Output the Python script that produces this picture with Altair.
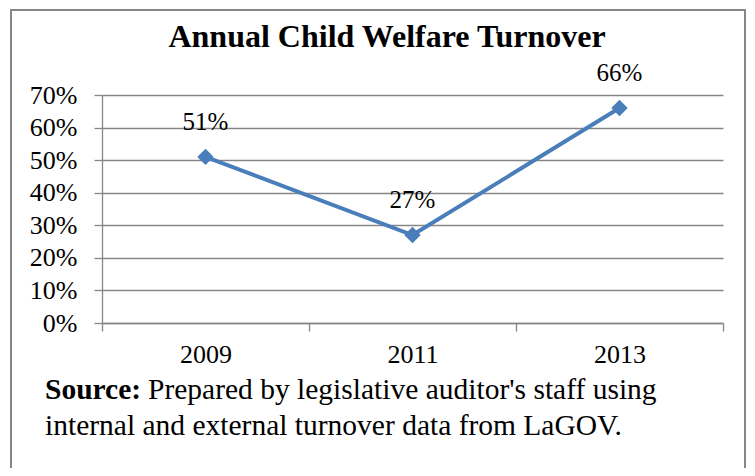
import altair as alt
import pandas as pd

# ---- data ----
years = ["2009", "2011", "2013"]
turnover = [0.51, 0.27, 0.66]
labels = ["51%", "27%", "66%"]
y_ticks = [0.0, 0.1, 0.2, 0.3, 0.4, 0.5, 0.6, 0.7]

title_text = "Annual Child Welfare Turnover"
source_bold = "Source:"
source_line1 = "Prepared by legislative auditor's staff using"
source_line2 = "internal and external turnover data from LaGOV."

FONT = "Liberation Serif"
GRAY = "#868686"
BLUE = "#4A7EBB"

df = pd.DataFrame({"year": years, "rate": turnover, "label": labels})

x_enc = alt.X(
    "year:N",
    sort=years,
    scale=alt.Scale(paddingInner=0, paddingOuter=0),
    axis=alt.Axis(
        title=None,
        labelAngle=0,
        tickBand="extent",
        grid=False,
        domainColor=GRAY,
        domainWidth=1.3,
        tickColor=GRAY,
        tickWidth=1.3,
        tickSize=8,
        labelPadding=10,
        labelFont=FONT,
        labelFontSize=26,
        labelColor="black",
    ),
)
y_enc = alt.Y(
    "rate:Q",
    scale=alt.Scale(domain=[0, 0.7], nice=False),
    axis=alt.Axis(
        title=None,
        values=y_ticks,
        format=".0%",
        grid=True,
        gridColor=GRAY,
        gridWidth=1.3,
        domainColor=GRAY,
        domainWidth=1.3,
        tickColor=GRAY,
        tickWidth=1.3,
        tickSize=8,
        labelPadding=17,
        labelOverlap=False,
        labelBound=False,
        labelFlush=False,
        labelFont=FONT,
        labelFontSize=26,
        labelColor="black",
    ),
)

base = alt.Chart(df).encode(x=x_enc, y=y_enc)

line = base.mark_line(color=BLUE, strokeWidth=4)
points = base.mark_point(
    shape="diamond", filled=True, color=BLUE, size=270, opacity=1
)
vals = base.mark_text(
    font=FONT, fontSize=25, color="black", baseline="alphabetic", dy=-27
).encode(text="label:N")

one = pd.DataFrame({"t": [title_text], "s": [source_bold], "a": [source_line1], "b": [source_line2]})
tb = alt.Chart(one)

frame = tb.mark_rect(filled=False, stroke=GRAY, strokeWidth=2, clip=False).encode(
    x=alt.value(-91), x2=alt.value(643), y=alt.value(-85), y2=alt.value(600)
)
title = tb.mark_text(
    font=FONT, fontSize=32, fontWeight="bold", color="black", align="center", baseline="alphabetic"
).encode(x=alt.value(285), y=alt.value(-48), text="t:N")
src_b = tb.mark_text(
    font=FONT, fontSize=29.5, fontWeight="bold", color="black", align="left", baseline="alphabetic"
).encode(x=alt.value(-57), y=alt.value(304), text="s:N")
src_1 = tb.mark_text(
    font=FONT, fontSize=29.5, color="black", align="left", baseline="alphabetic"
).encode(x=alt.value(46), y=alt.value(304), text="a:N")
src_2 = tb.mark_text(
    font=FONT, fontSize=29.5, color="black", align="left", baseline="alphabetic"
).encode(x=alt.value(-57), y=alt.value(340), text="b:N")

chart = (
    alt.layer(line, points, vals, frame, title, src_b, src_1, src_2)
    .properties(
        width=621,
        height=228,
        autosize=alt.AutoSizeParams(type="none"),
        padding={"left": 94, "top": 87, "right": 24, "bottom": 145},
        background="white",
    )
    .configure_view(stroke=None)
)

chart.save("out.html", embed_options={"renderer": "svg", "actions": False})
